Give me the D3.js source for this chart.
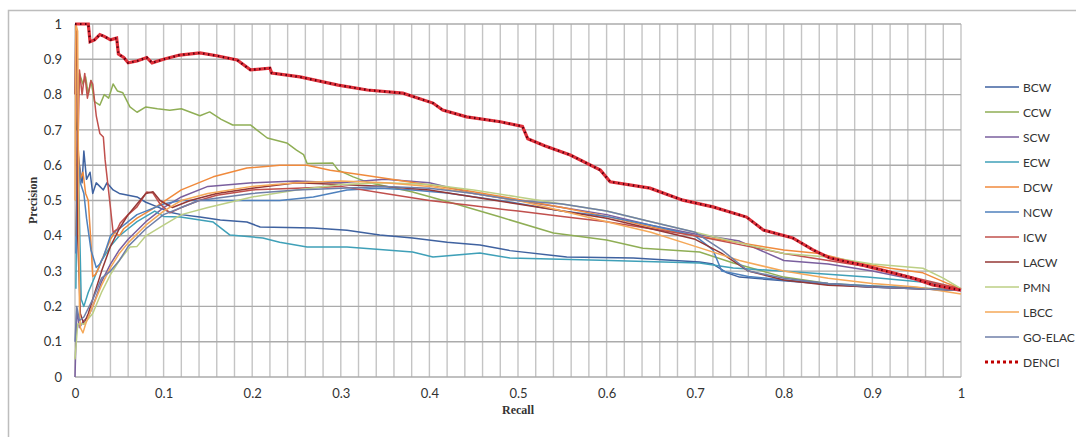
<!DOCTYPE html>
<html>
<head>
<meta charset="utf-8">
<script src="https://cdn.jsdelivr.net/npm/d3@7"></script>
<style>
  body { margin: 0; background: #fff; overflow: hidden; }
  svg text { font-family: Lato, "Open Sans", sans-serif; fill: #333; }
</style>
</head>
<body>
<div id="chart"></div>
<script>
// series names and colours, in legend order
const names = ["BCW","CCW","SCW","ECW","DCW","NCW","ICW","LACW","PMN","LBCC","GO-ELAC","DENCI"];
const colors = ["#3f62a0","#8fae55","#7a5f9e","#3fa0b8","#f08a3c","#4f81bd","#c0504d","#953735","#bccf84","#f5a858","#6f7fa8","#c00000"];

const xTicks = [0,0.1,0.2,0.3,0.4,0.5,0.6,0.7,0.8,0.9,1];
const yTicks = [0,0.1,0.2,0.3,0.4,0.5,0.6,0.7,0.8,0.9,1];

// [recall, precision]
const BCW = [[0.002,0.45],[0.005,0.6],[0.008,0.55],[0.01,0.64],[0.013,0.56],[0.017,0.58],[0.02,0.52],[0.024,0.55],[0.028,0.54],[0.032,0.53],[0.036,0.55],[0.043,0.53],[0.05,0.52],[0.06,0.515],[0.07,0.51],[0.08,0.495],[0.093,0.482],[0.107,0.467],[0.12,0.46],[0.141,0.453],[0.164,0.445],[0.194,0.439],[0.209,0.425],[0.269,0.422],[0.307,0.416],[0.344,0.402],[0.381,0.394],[0.42,0.382],[0.457,0.374],[0.491,0.358],[0.555,0.34],[0.63,0.337],[0.705,0.326],[0.72,0.32],[0.736,0.295],[0.75,0.283],[0.818,0.269],[0.894,0.255],[1,0.246]];
const CCW = [[0.002,0.7],[0.005,0.86],[0.009,0.83],[0.012,0.85],[0.015,0.8],[0.018,0.84],[0.022,0.78],[0.028,0.77],[0.033,0.8],[0.038,0.79],[0.043,0.83],[0.048,0.81],[0.054,0.805],[0.062,0.765],[0.07,0.75],[0.08,0.765],[0.093,0.76],[0.107,0.756],[0.12,0.76],[0.141,0.74],[0.152,0.751],[0.165,0.73],[0.178,0.714],[0.198,0.714],[0.217,0.677],[0.239,0.663],[0.25,0.643],[0.258,0.63],[0.262,0.605],[0.291,0.606],[0.297,0.586],[0.314,0.567],[0.33,0.552],[0.38,0.525],[0.43,0.49],[0.48,0.453],[0.54,0.408],[0.6,0.388],[0.641,0.365],[0.705,0.354],[0.743,0.323],[0.8,0.283],[0.85,0.265],[0.9,0.258],[0.95,0.252],[1,0.247]];
const SCW = [[0,0],[0.002,0.19],[0.005,0.14],[0.01,0.16],[0.015,0.17],[0.02,0.2],[0.03,0.27],[0.04,0.32],[0.05,0.36],[0.06,0.39],[0.08,0.44],[0.1,0.48],[0.12,0.51],[0.15,0.54],[0.2,0.55],[0.25,0.555],[0.3,0.55],[0.35,0.56],[0.4,0.55],[0.45,0.52],[0.5,0.5],[0.55,0.48],[0.6,0.46],[0.65,0.43],[0.7,0.405],[0.75,0.385],[0.8,0.33],[0.85,0.32],[0.9,0.3],[0.95,0.275],[1,0.248]];
const ECW = [[0.001,0.25],[0.003,0.72],[0.005,0.45],[0.007,0.22],[0.01,0.2],[0.015,0.24],[0.02,0.27],[0.03,0.33],[0.04,0.37],[0.05,0.4],[0.06,0.42],[0.07,0.44],[0.08,0.455],[0.09,0.47],[0.1,0.455],[0.119,0.453],[0.156,0.439],[0.175,0.402],[0.212,0.394],[0.231,0.382],[0.262,0.368],[0.307,0.368],[0.381,0.354],[0.404,0.34],[0.457,0.351],[0.491,0.337],[0.593,0.331],[0.705,0.323],[0.743,0.309],[0.818,0.297],[0.894,0.283],[0.968,0.266],[1,0.246]];
const DCW = [[0.001,0.4],[0.003,0.67],[0.006,0.56],[0.009,0.58],[0.012,0.52],[0.015,0.5],[0.018,0.38],[0.02,0.285],[0.023,0.29],[0.027,0.31],[0.03,0.33],[0.035,0.36],[0.04,0.39],[0.045,0.41],[0.05,0.4],[0.055,0.42],[0.07,0.45],[0.09,0.48],[0.12,0.53],[0.156,0.567],[0.194,0.592],[0.231,0.6],[0.262,0.6],[0.288,0.586],[0.325,0.572],[0.363,0.558],[0.4,0.544],[0.438,0.53],[0.491,0.507],[0.55,0.48],[0.6,0.455],[0.65,0.425],[0.7,0.4],[0.75,0.38],[0.8,0.36],[0.84,0.35],[0.88,0.325],[0.92,0.308],[0.957,0.295],[0.984,0.266],[1,0.25]];
const NCW = [[0.001,0.35],[0.003,0.65],[0.006,0.55],[0.01,0.52],[0.013,0.45],[0.018,0.36],[0.024,0.31],[0.028,0.32],[0.032,0.34],[0.036,0.37],[0.04,0.4],[0.043,0.408],[0.05,0.42],[0.06,0.44],[0.07,0.46],[0.08,0.47],[0.1,0.49],[0.119,0.5],[0.156,0.5],[0.231,0.5],[0.269,0.51],[0.307,0.53],[0.344,0.535],[0.381,0.53],[0.42,0.521],[0.491,0.496],[0.55,0.47],[0.6,0.455],[0.65,0.43],[0.7,0.4],[0.72,0.36],[0.73,0.3],[0.76,0.285],[0.8,0.275],[0.85,0.265],[0.9,0.258],[0.95,0.252],[1,0.246]];
const ICW = [[0.003,0.6],[0.005,0.87],[0.008,0.8],[0.011,0.86],[0.014,0.79],[0.018,0.84],[0.02,0.83],[0.024,0.74],[0.028,0.69],[0.032,0.68],[0.034,0.615],[0.04,0.48],[0.043,0.41],[0.048,0.42],[0.051,0.436],[0.06,0.46],[0.07,0.482],[0.081,0.524],[0.088,0.521],[0.096,0.49],[0.107,0.465],[0.12,0.48],[0.14,0.5],[0.16,0.515],[0.2,0.53],[0.25,0.535],[0.3,0.54],[0.35,0.52],[0.4,0.5],[0.45,0.485],[0.5,0.47],[0.55,0.455],[0.6,0.44],[0.65,0.42],[0.7,0.4],[0.75,0.375],[0.8,0.35],[0.85,0.33],[0.9,0.31],[0.95,0.28],[1,0.25]];
const LACW = [[0,0.8],[0.001,1.0],[0.002,0.95],[0.003,0.4],[0.006,0.18],[0.01,0.15],[0.015,0.18],[0.02,0.22],[0.03,0.3],[0.04,0.37],[0.05,0.42],[0.06,0.46],[0.07,0.49],[0.08,0.52],[0.088,0.525],[0.096,0.5],[0.11,0.48],[0.13,0.5],[0.16,0.52],[0.2,0.535],[0.25,0.55],[0.3,0.545],[0.35,0.54],[0.4,0.53],[0.45,0.51],[0.5,0.49],[0.55,0.47],[0.6,0.45],[0.65,0.42],[0.7,0.39],[0.73,0.35],[0.76,0.3],[0.8,0.275],[0.85,0.26],[0.9,0.255],[0.95,0.25],[1,0.245]];
const PMN = [[0,0.05],[0.003,0.15],[0.01,0.15],[0.02,0.18],[0.03,0.24],[0.04,0.29],[0.05,0.33],[0.062,0.368],[0.07,0.37],[0.08,0.4],[0.1,0.43],[0.12,0.46],[0.15,0.48],[0.2,0.51],[0.25,0.53],[0.3,0.545],[0.35,0.55],[0.4,0.545],[0.45,0.53],[0.5,0.51],[0.55,0.49],[0.6,0.47],[0.65,0.44],[0.7,0.41],[0.75,0.38],[0.8,0.35],[0.85,0.34],[0.9,0.32],[0.957,0.308],[0.98,0.28],[1,0.25]];
const LBCC = [[0,0.5],[0.001,1.0],[0.003,0.98],[0.004,0.55],[0.005,0.2],[0.006,0.14],[0.009,0.125],[0.012,0.15],[0.015,0.17],[0.02,0.2],[0.03,0.26],[0.04,0.31],[0.05,0.35],[0.06,0.38],[0.08,0.43],[0.1,0.47],[0.12,0.5],[0.15,0.52],[0.2,0.54],[0.25,0.55],[0.3,0.555],[0.35,0.55],[0.4,0.54],[0.45,0.52],[0.5,0.5],[0.55,0.47],[0.6,0.44],[0.65,0.41],[0.7,0.37],[0.75,0.33],[0.8,0.3],[0.85,0.28],[0.9,0.265],[0.95,0.255],[1,0.235]];
const GOELAC = [[0,0.1],[0.002,0.2],[0.005,0.16],[0.01,0.17],[0.02,0.22],[0.03,0.28],[0.04,0.3],[0.05,0.33],[0.06,0.37],[0.08,0.42],[0.1,0.46],[0.12,0.48],[0.14,0.5],[0.2,0.52],[0.25,0.53],[0.3,0.535],[0.35,0.54],[0.4,0.535],[0.45,0.52],[0.5,0.5],[0.55,0.49],[0.6,0.47],[0.65,0.44],[0.7,0.41],[0.73,0.36],[0.76,0.3],[0.8,0.28],[0.85,0.265],[0.9,0.255],[0.95,0.25],[1,0.245]];
const DENCI = [[0,1],[0.015,1],[0.017,0.95],[0.022,0.955],[0.028,0.97],[0.033,0.965],[0.04,0.955],[0.047,0.96],[0.049,0.915],[0.055,0.905],[0.06,0.89],[0.07,0.895],[0.081,0.905],[0.087,0.89],[0.1,0.9],[0.118,0.912],[0.141,0.918],[0.16,0.91],[0.183,0.898],[0.198,0.87],[0.22,0.875],[0.222,0.861],[0.254,0.85],[0.297,0.827],[0.33,0.813],[0.37,0.804],[0.404,0.776],[0.415,0.756],[0.442,0.737],[0.48,0.723],[0.505,0.71],[0.511,0.675],[0.53,0.655],[0.559,0.629],[0.593,0.586],[0.604,0.553],[0.649,0.535],[0.686,0.501],[0.72,0.482],[0.758,0.453],[0.777,0.416],[0.81,0.394],[0.833,0.36],[0.852,0.337],[0.889,0.317],[0.92,0.297],[0.946,0.28],[0.968,0.261],[1,0.246]];

const seriesData = [BCW, CCW, SCW, ECW, DCW, NCW, ICW, LACW, PMN, LBCC, GOELAC, DENCI];

const W = 1076, H = 437;
const margin = {top: 24, right: 115, bottom: 60, left: 75};

const svg = d3.select("#chart").append("svg")
  .attr("width", W)
  .attr("height", H)
  .style("display", "block");

// outer chart frame
svg.append("rect")
  .attr("x", 8.5).attr("y", 10.5)
  .attr("width", W).attr("height", H)
  .attr("fill", "none")
  .attr("stroke", "#bdbdbd")
  .attr("stroke-width", 1.5);

const x = d3.scaleLinear().domain([0, 1]).range([margin.left, W - margin.right]);
const y = d3.scaleLinear().domain([0, 1]).range([H - margin.bottom, margin.top]);

// grid: vertical every 0.02, horizontal every 0.1
const g = svg.append("g");
g.selectAll("line.v")
  .data(d3.range(0, 51).map(i => i / 50))
  .join("line")
  .attr("x1", d => x(d)).attr("x2", d => x(d))
  .attr("y1", y(0)).attr("y2", y(1))
  .attr("stroke", "#c4c4c4")
  .attr("stroke-width", 1.4);
g.selectAll("line.h")
  .data(yTicks)
  .join("line")
  .attr("x1", x(0)).attr("x2", x(1))
  .attr("y1", d => y(d)).attr("y2", d => y(d))
  .attr("stroke", "#ababab")
  .attr("stroke-width", 1.4);

// axes labels
const xAxis = d3.axisBottom(x).tickValues(xTicks).tickSize(0).tickPadding(12).tickFormat(d3.format("~g"));
const yAxis = d3.axisLeft(y).tickValues(yTicks).tickSize(0).tickPadding(13).tickFormat(d3.format("~g"));

const gx = svg.append("g").attr("transform", `translate(0,${y(0)})`).call(xAxis);
const gy = svg.append("g").attr("transform", `translate(${x(0)},0)`).call(yAxis);
[gx, gy].forEach(a => {
  a.select(".domain").remove();
  a.selectAll("text").attr("font-size", 13).attr("fill", "#333")
    .attr("font-family", "Lato, 'Open Sans', sans-serif");
});

svg.append("text")
  .attr("x", (x(0) + x(1)) / 2).attr("y", 414)
  .attr("text-anchor", "middle")
  .style("font-family", "'Liberation Serif', serif")
  .style("font-weight", "bold")
  .style("font-size", "12px")
  .text("Recall");

svg.append("text")
  .attr("transform", `translate(37,${(y(0) + y(1)) / 2}) rotate(-90)`)
  .attr("text-anchor", "middle")
  .style("font-family", "'Liberation Serif', serif")
  .style("font-weight", "bold")
  .style("font-size", "12px")
  .text("Precision");

// curves
const line = d3.line().x(d => x(d[0])).y(d => y(d[1]));

seriesData.forEach((data, i) => {
  if (names[i] === "DENCI") return;
  svg.append("path")
    .datum(data)
    .attr("d", line)
    .attr("fill", "none")
    .attr("stroke", colors[i])
    .attr("stroke-width", 1.5)
    .attr("stroke-linejoin", "round");
});

// DENCI on top: red line with dark dots
const di = names.indexOf("DENCI");
svg.append("path")
  .datum(seriesData[di])
  .attr("d", line)
  .attr("fill", "none")
  .attr("stroke", "#e0303a")
  .attr("stroke-width", 3.2);
svg.append("path")
  .datum(seriesData[di])
  .attr("d", line)
  .attr("fill", "none")
  .attr("stroke", "#5a0010")
  .attr("stroke-width", 2.2)
  .attr("stroke-dasharray", "1.5,3.5");

// legend
const legend = svg.append("g");
names.forEach((n, i) => {
  const ly = 87 + i * 25;
  if (n === "DENCI") {
    legend.append("line")
      .attr("x1", 985).attr("x2", 1019).attr("y1", ly).attr("y2", ly)
      .attr("stroke", colors[i]).attr("stroke-width", 3)
      .attr("stroke-dasharray", "3,3");
  } else {
    legend.append("line")
      .attr("x1", 985).attr("x2", 1019).attr("y1", ly).attr("y2", ly)
      .attr("stroke", colors[i]).attr("stroke-width", 1.5);
  }
  legend.append("text")
    .attr("x", 1023).attr("y", ly + 4.5)
    .attr("font-size", 12)
    .text(n);
});
</script>
</body>
</html>
